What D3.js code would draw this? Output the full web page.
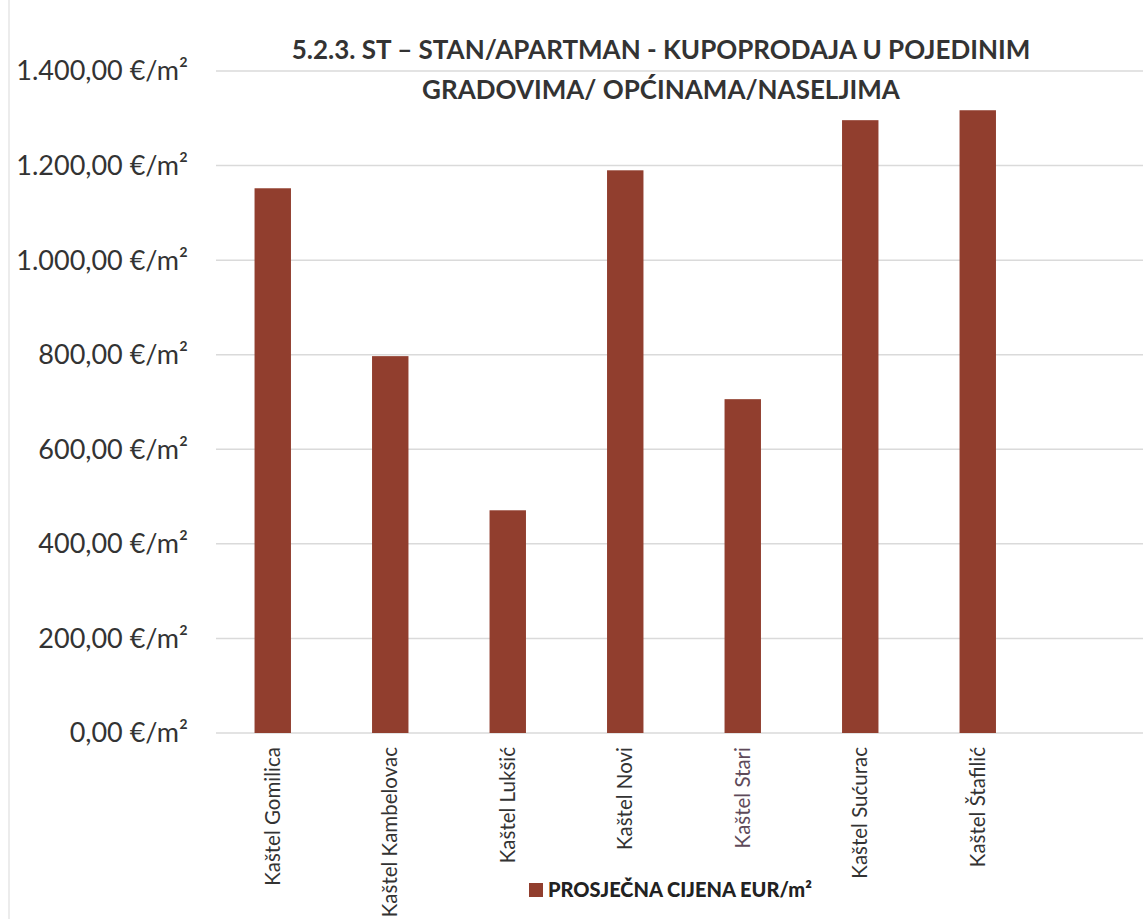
<!DOCTYPE html>
<html>
<head>
<meta charset="utf-8">
<script src="https://cdn.jsdelivr.net/npm/d3@7"></script>
<style>
  body { margin: 0; background: #fff; }
  svg { display: block; font-family: Lato, "Open Sans", sans-serif; }
</style>
</head>
<body>
<div id="chart"></div>
<script>
(function(){

  // categories (last slot is an empty category, as in the original)
  var towns = ["Kaštel Gomilica", "Kaštel Kambelovac", "Kaštel Lukšić", "Kaštel Novi",
               "Kaštel Stari", "Kaštel Sućurac", "Kaštel Štafilić", ""];
  // average price EUR/m2
  var prices = [1152, 797, 471, 1190, 706, 1296, 1317];
  var yTicks = [0, 200, 400, 600, 800, 1000, 1200, 1400];

  var width = 1143, height = 919;

  var svg = d3.select("#chart").append("svg")
    .attr("width", width)
    .attr("height", height);

  // faint scan edge on the left
  svg.append("line")
    .attr("x1", 9).attr("x2", 9).attr("y1", 0).attr("y2", height)
    .attr("stroke", "#ececec").attr("stroke-width", 2);

  var x = d3.scaleBand()
    .domain(towns.map(function(d, i){ return i; }))
    .range([214, 1154])
    .paddingInner(0.69)
    .paddingOuter(0.345);

  var y = d3.scaleLinear()
    .domain([0, 1400])
    .range([733, 71]);

  var fmt = function(v){
    var s = d3.format(",.2f")(v);
    return s.replace(/,/g, "#").replace(/\./g, ",").replace(/#/g, ".") + " €/m²";
  };

  // gridlines
  svg.append("g").selectAll("line")
    .data(yTicks)
    .enter().append("line")
    .attr("x1", 216).attr("x2", width)
    .attr("y1", function(d){ return y(d); })
    .attr("y2", function(d){ return y(d); })
    .attr("stroke", "#dadada")
    .attr("stroke-width", 1.5);

  // y tick labels
  svg.append("g").selectAll("text")
    .data(yTicks)
    .enter().append("text")
    .attr("x", 188)
    .attr("y", function(d){ return y(d); })
    .attr("dy", "0.35em")
    .attr("text-anchor", "end")
    .attr("font-size", 27)
    .attr("fill", "#333")
    .text(fmt);

  // bars
  svg.append("g").selectAll("rect")
    .data(prices)
    .enter().append("rect")
    .attr("x", function(d, i){ return x(i); })
    .attr("width", x.bandwidth())
    .attr("y", function(d){ return y(d); })
    .attr("height", function(d){ return y(0) - y(d); })
    .attr("fill", "#913e2e");

  // x labels, rotated
  svg.append("g").selectAll("text")
    .data(towns.slice(0, 7))
    .enter().append("text")
    .attr("transform", function(d, i){
      return "translate(" + (x(i) + x.bandwidth() / 2) + ",747) rotate(-90)";
    })
    .attr("dy", "0.35em")
    .attr("text-anchor", "end")
    .attr("font-size", 20.5)
    .attr("fill", function(d, i){ return i === 4 ? "#5e4a5a" : "#333"; })
    .text(function(d){ return d; });

  // title
  var title = svg.append("text")
    .attr("text-anchor", "middle")
    .attr("font-weight", "bold")
    .attr("font-size", 26)
    .attr("fill", "#333");
  title.append("tspan").attr("x", 661).attr("y", 59)
    .text("5.2.3. ST – STAN/APARTMAN - KUPOPRODAJA U POJEDINIM");
  title.append("tspan").attr("x", 661).attr("y", 99)
    .text("GRADOVIMA/ OPĆINAMA/NASELJIMA");

  // legend
  svg.append("rect")
    .attr("x", 529).attr("y", 883)
    .attr("width", 14).attr("height", 14)
    .attr("fill", "#913e2e");
  svg.append("text")
    .attr("x", 548).attr("y", 890)
    .attr("dy", "0.35em")
    .attr("font-size", 20)
    .attr("font-weight", "900")
    .attr("fill", "#222")
    .text("PROSJEČNA CIJENA EUR/m²");

})();
</script>
</body>
</html>
